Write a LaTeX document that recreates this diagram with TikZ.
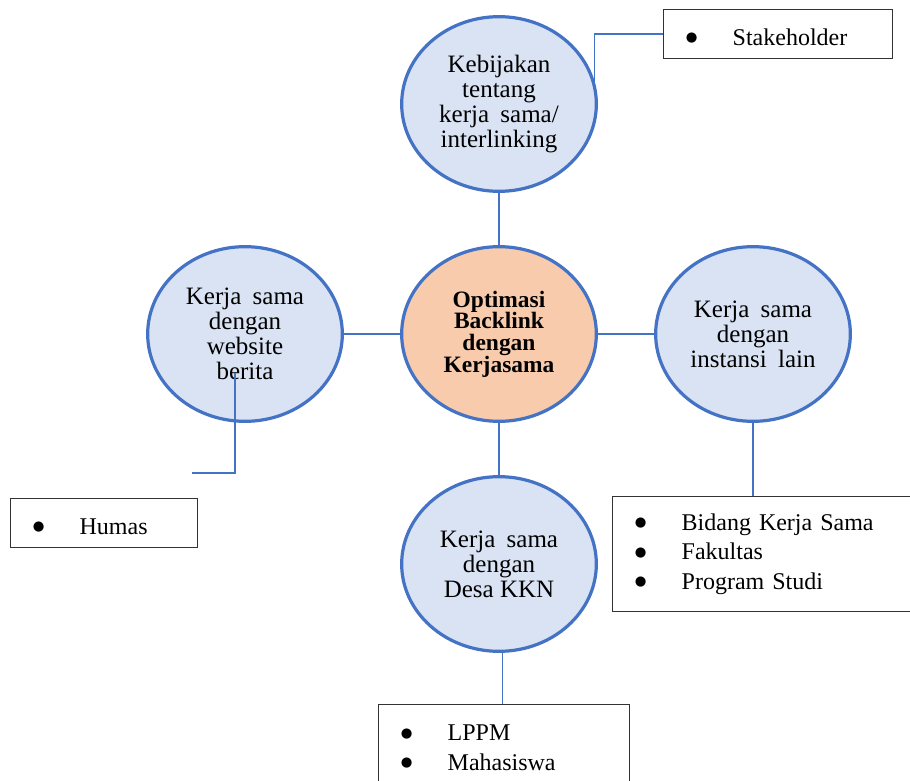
\documentclass[tikz,border=0pt]{standalone}
\usepackage{fontspec}
\setmainfont{Liberation Serif}
\newfontfamily\dotfont{DejaVu Sans}
\usetikzlibrary{shapes.geometric,calc}

\definecolor{ringblue}{HTML}{4472C4}
\definecolor{bubblefill}{HTML}{DAE3F3}
\definecolor{corefill}{HTML}{F8CBAD}
\definecolor{boxline}{HTML}{333333}

% one bullet item inside a list box (a round bullet, then the text)
\newcommand{\bigdot}{\raisebox{2.6pt}{\fontsize{10pt}{10pt}\dotfont ●}}
\newcommand{\bitem}[1]{\makebox[35.25pt][l]{\hspace{0.2pt}\bigdot}#1}
\newcommand{\wsp}{\hspace{0.45em}}
\newcommand{\tallstrut}{\rule{0pt}{16.5pt}}

\begin{document}
\begin{tikzpicture}[x=0.75pt,y=-0.75pt,
  bubble/.style={ellipse, draw=ringblue, line width=2.4pt, fill=bubblefill,
    minimum width=146pt, minimum height=131pt, inner sep=0pt, align=center,
    font=\fontsize{18.75pt}{18.75pt}\selectfont},
  core/.style={bubble, fill=corefill,
    font=\fontsize{17.6pt}{16.3pt}\selectfont\bfseries},
  spoke/.style={draw=ringblue, line width=2.2pt},
  lead/.style={draw=ringblue, line width=1pt},
  listbox/.style={draw=boxline, line width=1pt, fill=white, anchor=north west,
    inner xsep=16.5pt, inner ysep=0pt, align=left,
    font=\fontsize{18pt}{22.1pt}\selectfont}
]
% canvas
\path[use as bounding box] (0,0) rectangle (910,781);
\clip (0,0) rectangle (910,781);
\fill[white] (0,0) rectangle (910,781);

% hub and the four topics
\node[core]   (C) at (499,334) {Optimasi\\Backlink\\dengan\\Kerjasama};
\node[bubble] (T) at (499,104) {Kebijakan\\tentang\\kerja\wsp sama/\\interlinking};
\node[bubble] (L) at (245,334) {Kerja\wsp sama\\dengan\\website\\berita};
\node[bubble] (R) at (753,334) {Kerja\wsp sama\\dengan\\instansi\wsp lain};
\node[bubble] (B) at (499,564) {Kerja\wsp sama\\dengan\\Desa KKN};

\draw[spoke] (T) -- (C);
\draw[spoke] (L) -- (C);
\draw[spoke] (C) -- (R);
\draw[spoke] (C) -- (B);

% partner lists
\node[listbox, minimum width=171.75pt, minimum height=36.75pt, text width=138.75pt]
  (SB) at (663,9) {\tallstrut\bitem{Stakeholder}};
\node[listbox, minimum width=140.25pt, minimum height=36.75pt, text width=107.25pt]
  (HB) at (10,498) {\tallstrut\bitem{Humas}};
\node[listbox, minimum width=228.75pt, minimum height=86.25pt, text width=195.75pt]
  (RB) at (612,496) {\bitem{Bidang Kerja Sama}\\\bitem{Fakultas}\\\bitem{Program Studi}};
\node[listbox, minimum width=188.25pt, minimum height=64.5pt, text width=155.25pt]
  (BB) at (378,704) {\bitem{LPPM}\\\bitem{Mahasiswa}};

% leader lines from topics to their lists
\draw[lead] (SB.west) -| (T.13);

\coordinate (lstart) at ($(L.center)+(-10,39)$);
\coordinate (lend)   at (192,473);
\draw[lead] (lstart) |- (lend);

\draw[lead] (R.south) -- (R.south |- RB.north);

\coordinate (bstub) at ($(B.south)+(3.5,0)$);
\draw[lead] (bstub) -- (bstub |- BB.north);
\end{tikzpicture}
\end{document}
